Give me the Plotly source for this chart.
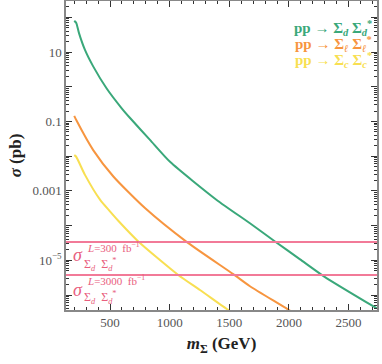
import plotly.graph_objects as go

# mass grid points (GeV) and cross sections (pb)
m_d = [200, 217, 240, 290, 360, 472, 598, 668, 835, 1003, 1394, 1673, 1883, 2093, 2302, 2738]
sig_d = [79, 69, 35, 11.5, 3.8, 0.89, 0.24, 0.126, 0.0295, 0.0069, 5.5e-4, 1.17e-4, 3.5e-5, 1.07e-5, 3.3e-6, 4.1e-7]

m_l = [200, 217, 359, 528, 793, 1142, 1533, 1673, 2000, 2050]
sig_l = [0.145, 0.11, 0.015, 2.6e-3, 3.2e-4, 3.4e-5, 4.0e-6, 1.8e-6, 3.7e-7, 2.8e-7]

m_c = [200, 215, 290, 416, 494, 569, 737, 1072, 1254, 1492, 1540]
sig_c = [0.0107, 0.0098, 2.9e-3, 5.6e-4, 2.7e-4, 1.38e-4, 3.5e-5, 3.8e-6, 1.4e-6, 3.7e-7, 2.9e-7]

lumi_limits = [3.4e-5, 3.8e-6]
lumi_names = ["300", "3000"]

green = "#3aa87a"
orange = "#f7953f"
yellow = "#f8df52"
pink = "#f27a98"
pink_txt = "#e95e7e"
serif = "Liberation Serif"

fig = go.Figure()
for m, s, c in [(m_d, sig_d, green), (m_l, sig_l, orange), (m_c, sig_c, yellow)]:
    fig.add_trace(go.Scatter(x=m, y=s, mode="lines", line=dict(color=c, width=2, shape="spline", smoothing=0.6),
                             showlegend=False, hoverinfo="skip"))

for v in lumi_limits:
    fig.add_hline(y=v, line=dict(color=pink, width=2))

star = "<sup>*</sup>"

# legend-like labels
legend_txt = [
    ("pp → Σ<sub><i>d</i></sub> Σ<sub><i>d</i></sub>" + star, green, 0.913),
    ("pp → Σ<sub><i>ℓ</i></sub> Σ<sub><i>ℓ</i></sub>" + star, orange, 0.861),
    ("pp → Σ<sub><i>c</i></sub> Σ<sub><i>c</i></sub>" + star, yellow, 0.809),
]
for t, c, yy in legend_txt:
    fig.add_annotation(text="<b>" + t + "</b>", xref="paper", yref="paper", x=0.99, y=yy,
                       xanchor="right", yanchor="middle", showarrow=False,
                       font=dict(family=serif, size=15, color=c))

# sigma labels near the luminosity lines
lab_pos = [(-4.85, -4.62, -5.12), (-5.86, -5.58, -6.06)]
for (ys, yt, yb), name in zip(lab_pos, lumi_names):
    fig.add_annotation(text="<i>σ</i>", x=228, y=ys, xanchor="center", yanchor="middle", showarrow=False,
                       font=dict(family=serif, size=18, color=pink_txt))
    fig.add_annotation(text="<i>L</i>=" + name + "  fb<sup>−1</sup>", x=290, y=yt, xanchor="left",
                       yanchor="middle", showarrow=False, font=dict(family=serif, size=11, color=pink_txt))
    fig.add_annotation(text="Σ<sub><i>d</i></sub>  Σ<sub><i>d</i></sub>" + star, x=268, y=yb,
                       xanchor="left", yanchor="middle", showarrow=False,
                       font=dict(family=serif, size=12, color=pink_txt))

decades = [10.0 ** k for k in range(-7, 3)]
labels = {1: "10", -1: "0.1", -3: "0.001", -5: "10<sup>−5</sup>"}
ytext = [labels.get(k, "") for k in range(-7, 3)]
yminor = [d * j for d in decades for j in range(2, 10)]

fig.update_layout(
    width=382, height=364,
    margin=dict(l=66, r=5, t=1, b=54),
    plot_bgcolor="white", paper_bgcolor="white",
    font=dict(family=serif, color="#444"),
    xaxis=dict(range=[131, 2738], tickvals=[500, 1000, 1500, 2000, 2500], ticks="inside", ticklen=6,
               tickcolor="#333", showline=True, linecolor="#888", linewidth=1.5, mirror="allticks",
               showgrid=False, zeroline=False, tickfont=dict(size=13, color="#555"), automargin=False,
               minor=dict(ticks="inside", ticklen=3, tickcolor="#333", dtick=100, tick0=0),
               title=dict(text="<b><i>m</i><sub>Σ</sub> (GeV)</b>", font=dict(size=17, color="#222"), standoff=8)),
    yaxis=dict(type="log", range=[-6.43, 2.47], tickvals=decades, ticktext=ytext, ticks="inside", ticklen=6,
               tickcolor="#333", showline=True, linecolor="#888", linewidth=1.5, mirror="allticks",
               showgrid=False, zeroline=False, tickfont=dict(size=13, color="#555"), automargin=False,
               minor=dict(ticks="inside", ticklen=3, tickcolor="#333", tickmode="array", tickvals=yminor),
               title=dict(text="<b><i>σ</i> (pb)</b>", font=dict(size=17, color="#222"), standoff=6)),
)

# drop the browser's default page margin so the figure sits at the window corner
fig.write_html("out.html", config={"displayModeBar": False},
               post_script="document.body.style.margin='0';")
